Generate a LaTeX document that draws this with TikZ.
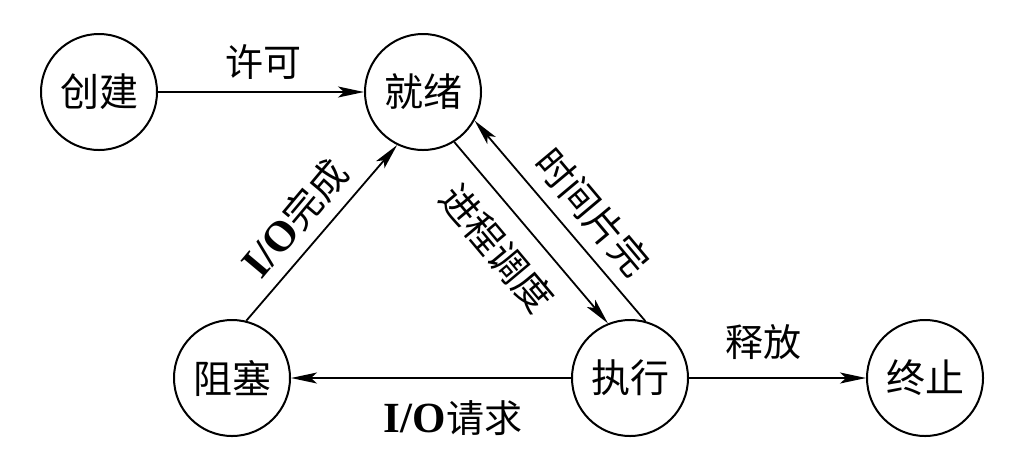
\documentclass[tikz,border=0pt]{standalone}
\usepackage{fontspec}
\newfontfamily\cjk{Noto Sans CJK SC}
\newfontfamily\lat{Liberation Serif}
\usetikzlibrary{arrows.meta}
\newcommand\iolat{{\lat\bfseries\fontsize{43}{44}\selectfont I/O}}
\begin{document}
\begin{tikzpicture}[x=1pt,y=-1pt,
  state/.style={circle,draw,line width=2pt,minimum size=116pt,inner sep=0pt,font=\cjk\fontsize{39}{40}\selectfont},
  lab/.style={font=\cjk\fontsize{38}{40}\selectfont,inner sep=0pt},
  conn/.style={line width=1.8pt,-{Stealth[length=26pt,width=11pt,inset=6pt]}}]
\useasboundingbox (0,0) rectangle (1032,459);
\node[state] (cj) at (99,92) {创建};
\node[state] (jx) at (423,92) {就绪};
\node[state] (zs) at (232,378) {阻塞};
\node[state] (zx) at (630,378) {执行};
\node[state] (zz) at (925,378) {终止};
\draw[conn] (cj) -- (jx);
\draw[conn] (zs.76) -- (jx.-116);
\draw[conn] (jx.-58) -- (zx.112);
\draw[conn] (zx.75) -- (jx.-29);
\draw[conn] (zx) -- (zs);
\draw[conn] (zx) -- (zz);
\node[lab] (l1) at (263,62) {许可};
\node[lab,rotate=50] (l2) at (295,218) {\iolat 完成};
\node[lab,rotate=-50] (l3) at (497,248) {进程调度};
\node[lab,rotate=-50] (l4) at (593,212) {时间片完};
\node[lab] (l5) at (453,418) {\iolat 请求};
\node[lab] (l6) at (763,342) {释放};
\end{tikzpicture}
\end{document}
